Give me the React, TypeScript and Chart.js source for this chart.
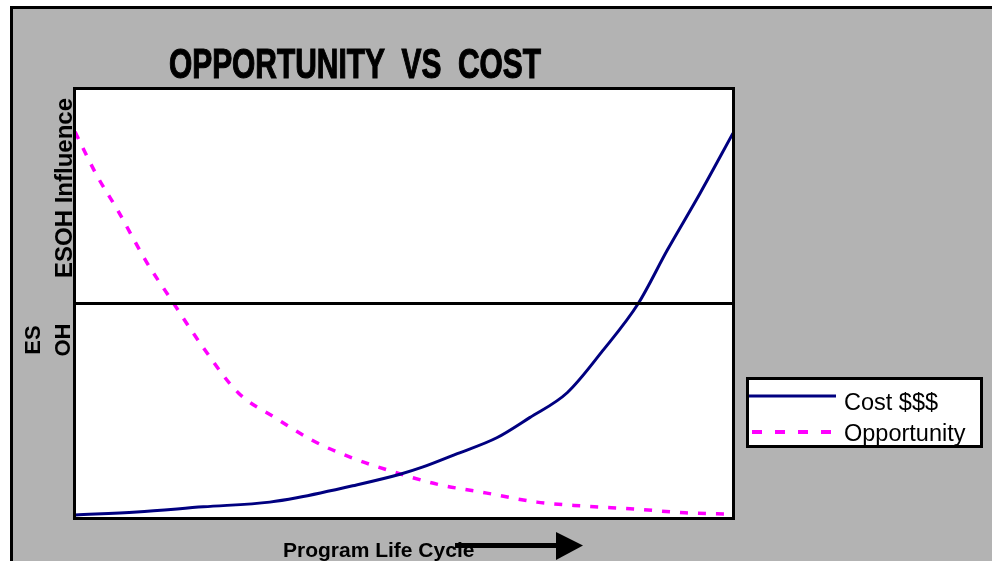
import React, { useEffect, useRef } from "react";
import { Chart, registerables } from "chart.js";

Chart.register(...registerables);

// ---- Data ----
const titleText = "OPPORTUNITY  VS  COST";
const yAxisLabel = "ESOH Influence";
const yAxisSubLabels = ["ES", "OH"];
const xAxisLabel = "Program Life Cycle";

const costLabel = "Cost $$$";
const costX = [0, 9.4, 19.5, 29.6, 33.7, 42.2, 49.4, 52.9, 58.1, 64.1, 69.1, 74.8, 80.2, 85.6, 90.0, 95.0, 100];
const costY = [0.7, 1.4, 2.6, 3.7, 4.7, 7.5, 10.2, 11.9, 15.0, 18.7, 23.4, 29.2, 39.0, 50.0, 62.4, 75.7, 89.7];

const oppLabel = "Opportunity";
const oppX = [0, 3.3, 6.5, 10.9, 14.4, 19.5, 24.8, 30.4, 36.2, 42.1, 47.9, 55.0, 62.6, 70.2, 77.2, 85.1, 92.7, 100];
const oppY = [90.0, 79.9, 71.7, 59.6, 51.4, 39.7, 29.2, 23.4, 18.0, 14.0, 11.0, 7.9, 5.8, 3.7, 2.8, 2.1, 1.2, 0.9];

const dividerValue = 50;

const COST_COLOR = "#000080";
const OPP_COLOR = "#ff00ff";
const BG_GRAY = "#b3b3b3";
const FONT = "'Liberation Sans', Arial, sans-serif";

const framePlugin = {
  id: "framePlugin",
  beforeDraw(chart: any) {
    const { ctx, chartArea: a } = chart;
    ctx.save();
    ctx.fillStyle = "#ffffff";
    ctx.fillRect(0, 0, chart.width, chart.height);
    ctx.fillStyle = BG_GRAY;
    ctx.fillRect(10, 6, chart.width - 10, chart.height - 6);
    ctx.fillStyle = "#000000";
    ctx.fillRect(10, 6, chart.width - 10, 3);
    ctx.fillRect(10, 6, 3, chart.height - 6);
    ctx.fillStyle = "#ffffff";
    ctx.fillRect(a.left, a.top, a.right - a.left, a.bottom - a.top);
    ctx.restore();
  },
  afterDatasetsDraw(chart: any) {
    const { ctx, chartArea: a, scales } = chart;
    ctx.save();
    // divider line
    const yDiv = scales.y.getPixelForValue(dividerValue);
    ctx.strokeStyle = "#000000";
    ctx.lineWidth = 3;
    ctx.beginPath();
    ctx.moveTo(a.left, yDiv);
    ctx.lineTo(a.right, yDiv);
    ctx.stroke();
    // plot border
    ctx.strokeRect(a.left - 0.5, a.top - 0.5, a.right - a.left + 1, a.bottom - a.top + 1);

    // title
    ctx.fillStyle = "#000000";
    ctx.font = "bold 43px 'Liberation Sans Narrow', 'Liberation Sans', Arial, sans-serif";
    ctx.textAlign = "center";
    ctx.textBaseline = "alphabetic";
    ctx.fillText(titleText, 355, 78, 372);
    ctx.lineWidth = 1.2;
    ctx.strokeStyle = "#000000";
    ctx.strokeText(titleText, 355, 78, 372);

    // y label
    ctx.save();
    ctx.translate(72, 188);
    ctx.rotate(-Math.PI / 2);
    ctx.font = "bold 24px " + FONT;
    ctx.textAlign = "center";
    ctx.fillText(yAxisLabel, 0, 0, 181);
    ctx.restore();

    // ES / OH
    const subX = [40, 70];
    yAxisSubLabels.forEach((t, i) => {
      ctx.save();
      ctx.translate(subX[i], 340);
      ctx.rotate(-Math.PI / 2);
      ctx.font = "bold 22px " + FONT;
      ctx.textAlign = "center";
      ctx.fillText(t, 0, 0);
      ctx.restore();
    });

    // x label
    ctx.font = "bold 21px " + FONT;
    ctx.textAlign = "left";
    ctx.fillText(xAxisLabel, 283, 557, 193);

    // arrow
    ctx.fillRect(455, 543, 105, 5);
    ctx.beginPath();
    ctx.moveTo(556, 532);
    ctx.lineTo(583, 545.5);
    ctx.lineTo(556, 560);
    ctx.closePath();
    ctx.fill();

    // legend
    ctx.fillStyle = "#ffffff";
    ctx.fillRect(746, 377, 237, 71);
    ctx.strokeStyle = "#000000";
    ctx.lineWidth = 3;
    ctx.strokeRect(747.5, 378.5, 234, 68);
    const ds = chart.data.datasets;
    // cost
    ctx.strokeStyle = ds[0].borderColor;
    ctx.lineWidth = 3;
    ctx.setLineDash([]);
    ctx.beginPath();
    ctx.moveTo(749, 396);
    ctx.lineTo(836, 396);
    ctx.stroke();
    // opportunity
    ctx.strokeStyle = ds[1].borderColor;
    ctx.lineWidth = 4;
    ctx.setLineDash([10, 13]);
    ctx.beginPath();
    ctx.moveTo(752, 432);
    ctx.lineTo(836, 432);
    ctx.stroke();
    ctx.setLineDash([]);
    ctx.fillStyle = "#000000";
    ctx.font = "23.5px " + FONT;
    ctx.textAlign = "left";
    ctx.fillText(ds[0].label, 844, 410);
    ctx.fillText(ds[1].label, 844, 441);
    ctx.restore();
  },
};

export default function App() {
  const ref = useRef<HTMLCanvasElement | null>(null);

  useEffect(() => {
    if (!ref.current) return;
    const chart = new Chart(ref.current, {
      type: "line",
      data: {
        datasets: [
          {
            label: costLabel,
            data: costX.map((x, i) => ({ x, y: costY[i] })),
            borderColor: COST_COLOR,
            borderWidth: 3,
            pointRadius: 0,
            cubicInterpolationMode: "monotone",
            fill: false,
          },
          {
            label: oppLabel,
            data: oppX.map((x, i) => ({ x, y: oppY[i] })),
            borderColor: OPP_COLOR,
            borderWidth: 3.5,
            borderDash: [8, 10],
            pointRadius: 0,
            cubicInterpolationMode: "monotone",
            fill: false,
          },
        ],
      },
      options: {
        animation: false,
        responsive: false,
        devicePixelRatio: 1,
        layout: { padding: { left: 75, top: 89, right: 259, bottom: 43 } },
        scales: {
          x: { type: "linear", min: 0, max: 100, display: false },
          y: { type: "linear", min: 0, max: 100, display: false },
        },
        plugins: {
          legend: { display: false },
          title: { display: false },
          tooltip: { enabled: false },
        },
      },
      plugins: [framePlugin],
    });
    return () => chart.destroy();
  }, []);

  return (
    <div style={{ position: "fixed", left: 0, top: 0, width: 992, height: 561 }}>
      <canvas ref={ref} width={992} height={561} style={{ display: "block" }} />
    </div>
  );
}
